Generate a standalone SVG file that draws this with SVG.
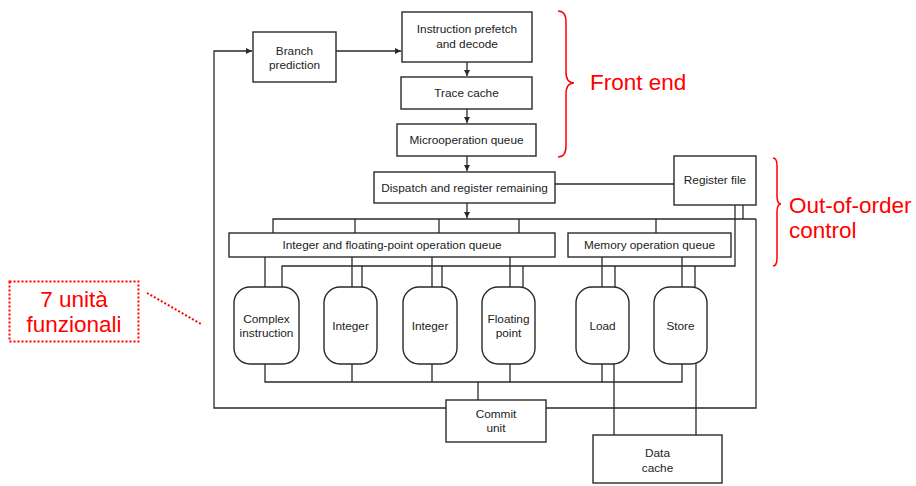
<svg xmlns="http://www.w3.org/2000/svg" width="916" height="486" viewBox="0 0 916 486">
<style>
.box{fill:#fff;stroke:#2a2a2a;stroke-width:1.4}
.t{font-family:"Liberation Sans",Arial,sans-serif;font-size:11.8px;fill:#222;text-anchor:middle}
.w{fill:none;stroke:#2a2a2a;stroke-width:1.3}
.red{fill:none;stroke:#ff0000;stroke-width:1.5}
.rt{font-family:"Liberation Sans",Arial,sans-serif;font-size:22.5px;fill:#ff0000}
</style>
<defs>
<marker id="ah" viewBox="0 0 8 8" refX="8" refY="4" markerWidth="6" markerHeight="6" markerUnits="userSpaceOnUse" orient="auto">
<path d="M0,0 L8,4 L0,8 z" fill="#2a2a2a"/>
</marker>
</defs>
<rect width="916" height="486" fill="#fff"/>

<g id="connectors">
<!-- feedback loop -->
<path class="w" d="M446,408 H214 V51 H252" marker-end="url(#ah)"/>
<path class="w" d="M546,408 H756 V219"/>
<path class="w" d="M336,51 H401" marker-end="url(#ah)"/>
<path class="w" d="M467,62 V76" marker-end="url(#ah)"/>
<path class="w" d="M467,109 V123" marker-end="url(#ah)"/>
<path class="w" d="M467,156 V171" marker-end="url(#ah)"/>
<path class="w" d="M467,203 V218" marker-end="url(#ah)"/>
<path class="w" d="M555,184 H674"/>
<!-- dispatch bus -->
<path class="w" d="M273,233 V219 H756"/>
<path class="w" d="M355,219 V233 M439,219 V233 M519,219 V233 M656,219 V233 M743,205 V219"/>
<!-- register bus -->
<path class="w" d="M282,287 V266 H735 V205"/>
<path class="w" d="M362,266 V287 M442,266 V287 M523,266 V287 M615,266 V287 M695,266 V287"/>
<!-- queue to units -->
<path class="w" d="M265,257 V287 M352,257 V287 M432,257 V287 M510,257 V287 M602,257 V287 M682,257 V287"/>
<!-- units to result bus -->
<path class="w" d="M265,364 V382 H682 V364 M352,364 V382 M432,364 V382 M510,364 V382 M602,364 V382"/>
<path class="w" d="M478,382 V400"/>
<!-- to data cache -->
<path class="w" d="M614,364 V435 M696,364 V435"/>
</g>

<g id="branch-prediction">
<rect class="box" x="253" y="32" width="83" height="50"/>
<text class="t" x="294.5" y="55">Branch</text>
<text class="t" x="294.5" y="69">prediction</text>
</g>
<g id="instruction-prefetch">
<rect class="box" x="402" y="12" width="130" height="50"/>
<text class="t" x="467" y="33">Instruction prefetch</text>
<text class="t" x="467" y="48">and decode</text>
</g>
<g id="trace-cache">
<rect class="box" x="401" y="77" width="131" height="32"/>
<text class="t" x="466.5" y="97">Trace cache</text>
</g>
<g id="microop-queue">
<rect class="box" x="397" y="124" width="139" height="32"/>
<text class="t" x="466.5" y="144">Microoperation queue</text>
</g>
<g id="dispatch">
<rect class="box" x="374" y="172" width="181" height="31"/>
<text class="t" x="464.5" y="192">Dispatch and register remaining</text>
</g>
<g id="register-file">
<rect class="box" x="674" y="156" width="82" height="49"/>
<text class="t" x="715" y="184">Register file</text>
</g>
<g id="int-fp-queue">
<rect class="box" x="229" y="233" width="326" height="24"/>
<text class="t" x="392" y="249">Integer and floating-point operation queue</text>
</g>
<g id="memory-queue">
<rect class="box" x="568" y="233" width="163" height="24"/>
<text class="t" x="649.5" y="249">Memory operation queue</text>
</g>
<g id="complex-instruction">
<rect class="box" x="234" y="287" width="65" height="77" rx="16" ry="16"/>
<text class="t" x="266.5" y="323">Complex</text>
<text class="t" x="266.5" y="337">instruction</text>
</g>
<g id="integer-1">
<rect class="box" x="324" y="287" width="53" height="77" rx="16" ry="16"/>
<text class="t" x="350.5" y="330">Integer</text>
</g>
<g id="integer-2">
<rect class="box" x="403" y="287" width="54" height="77" rx="16" ry="16"/>
<text class="t" x="430" y="330">Integer</text>
</g>
<g id="floating-point">
<rect class="box" x="482" y="287" width="53" height="77" rx="16" ry="16"/>
<text class="t" x="508.5" y="323">Floating</text>
<text class="t" x="508.5" y="337">point</text>
</g>
<g id="load">
<rect class="box" x="576" y="287" width="53" height="77" rx="16" ry="16"/>
<text class="t" x="602.5" y="330">Load</text>
</g>
<g id="store">
<rect class="box" x="654" y="287" width="53" height="77" rx="16" ry="16"/>
<text class="t" x="680.5" y="330">Store</text>
</g>
<g id="commit-unit">
<rect class="box" x="446" y="400" width="100" height="42"/>
<text class="t" x="496" y="418">Commit</text>
<text class="t" x="496" y="432">unit</text>
</g>
<g id="data-cache">
<rect class="box" x="593" y="435" width="129" height="48"/>
<text class="t" x="657.5" y="457">Data</text>
<text class="t" x="657.5" y="472">cache</text>
</g>

<g id="front-end-annotation">
<path class="red" d="M558,11 Q566,11 566,22 L566,72 Q566,83 574,83 Q566,83 566,94 L566,146 Q566,157 558,157"/>
<text class="rt" x="590" y="90">Front end</text>
</g>
<g id="ooo-annotation">
<path class="red" d="M773,158 Q777,158 777,166 L777,196 Q777,204 781,204 Q777,204 777,212 L777,258 Q777,266 773,266"/>
<text class="rt" x="789" y="213">Out-of-order</text>
<text class="rt" x="789" y="238">control</text>
</g>
<g id="functional-units-annotation">
<rect x="9.5" y="281.5" width="129" height="60" fill="none" stroke="#ff0000" stroke-width="2" stroke-dasharray="2 2"/>
<text class="rt" x="74" y="307" text-anchor="middle">7 unità</text>
<text class="rt" x="74" y="332" text-anchor="middle">funzionali</text>
<path d="M147,293 L201,324" fill="none" stroke="#ff0000" stroke-width="2" stroke-dasharray="2 2"/>
</g>
</svg>
